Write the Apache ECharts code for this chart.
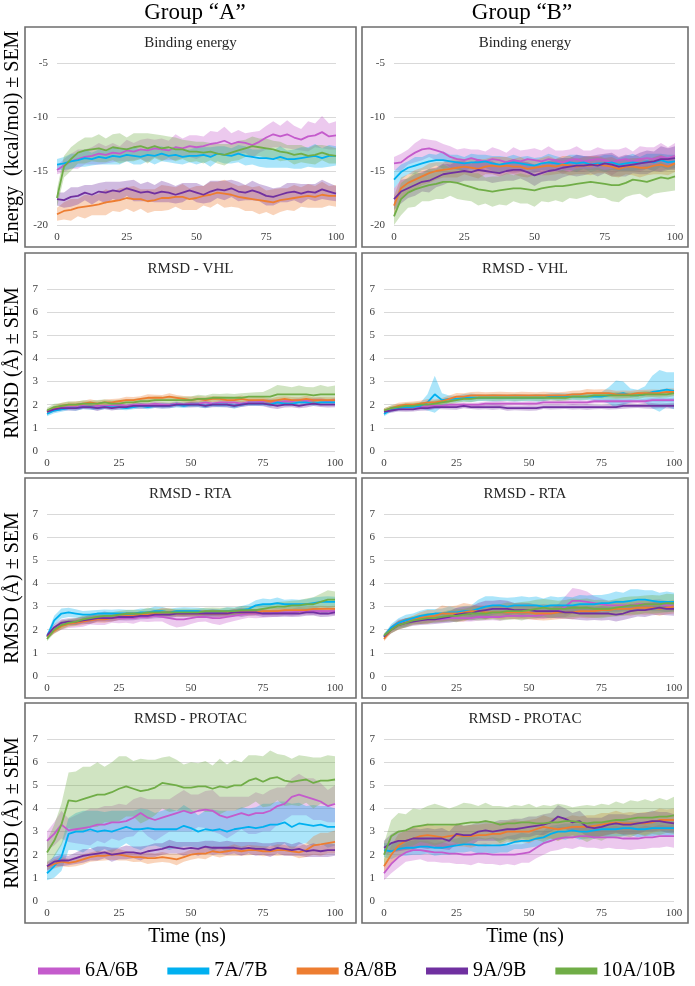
<!DOCTYPE html>
<html>
<head>
<meta charset="utf-8">
<script src="https://cdn.jsdelivr.net/npm/echarts@6/dist/echarts.min.js"></script>
<style>
  html, body { margin: 0; padding: 0; background: #fff; }
  #chart { width: 695px; height: 986px; }
</style>
</head>
<body>
<div id="chart"></div>
<script>
// time axis (ns)
var times = [0,2.5,5,7.5,10,12.5,15,17.5,20,22.5,
  25,27.5,30,32.5,35,37.5,40,42.5,45,47.5,
  50,52.5,55,57.5,60,62.5,65,67.5,70,72.5,
  75,77.5,80,82.5,85,87.5,90,92.5,95,97.5,100];

var seriesNames = ['6A/6B', '7A/7B', '8A/8B', '9A/9B', '10A/10B'];
var seriesColors = ['#c45bcc', '#00b0f0', '#ed7d31', '#7030a0', '#70ad47'];
var panelTitles = ['Binding energy', 'RMSD - VHL', 'RMSD - RTA', 'RMSD - PROTAC'];
var xTicks = [0, 100, 25];
var energyTicks = [-20, -5, 5];
var rmsdTicks = [0, 7, 1];

// ---- Binding energy, group A ----
var bindA_6 = [-14.9,-14.5,-14.1,-13.9,-13.7,-13.6,-13.4,-13.5,-13.3,-13.4,
  -13.1,-13.2,-13.0,-13.1,-12.9,-13.0,-13.1,-12.8,-12.9,-12.7,
  -12.8,-12.7,-12.5,-12.4,-12.2,-12.5,-12.3,-12.4,-12.6,-12.3,
  -11.9,-11.6,-11.8,-11.6,-11.9,-12.1,-11.8,-11.7,-11.4,-11.8,-11.7];
var bindA_6_sem = [0.4,0.6,0.7,0.9,0.7,0.8,1.0,0.8,0.9,0.7,
  1.0,0.8,0.9,1.1,0.8,1.0,0.9,1.2,0.9,1.0,
  1.1,0.9,1.2,1.0,1.3,1.0,1.1,0.9,1.2,1.0,
  1.1,1.2,1.0,1.3,1.1,1.0,1.4,1.1,1.5,1.2,1.3];
var bindA_7 = [-14.4,-14.3,-14.1,-14.0,-13.8,-13.9,-13.7,-13.8,-13.6,-13.7,
  -13.5,-13.6,-13.7,-13.5,-13.6,-13.4,-13.6,-13.5,-13.7,-13.6,
  -13.6,-13.5,-13.7,-13.4,-13.5,-13.6,-13.4,-13.6,-13.7,-13.8,
  -13.8,-13.9,-13.7,-13.9,-13.9,-13.8,-13.7,-13.6,-13.8,-13.6,-13.6];
var bindA_7_sem = [0.5,0.6,0.7,0.6,0.8,0.6,0.7,0.6,0.8,0.7,
  0.6,0.8,0.7,0.6,0.8,0.7,0.6,0.8,0.7,0.6,
  0.8,0.7,0.9,0.7,0.8,0.7,0.8,0.9,0.7,0.8,
  0.9,0.8,1.0,0.8,0.9,1.0,0.9,1.1,0.9,1.0,0.9];
var bindA_8 = [-19.0,-18.7,-18.6,-18.4,-18.3,-18.2,-18.1,-17.9,-17.8,-17.7,
  -17.5,-17.6,-17.6,-17.8,-17.7,-17.5,-17.5,-17.4,-17.4,-17.6,
  -17.5,-17.3,-17.2,-17.0,-17.1,-17.2,-17.4,-17.5,-17.6,-17.7,
  -17.8,-17.9,-17.7,-17.6,-17.5,-17.4,-17.3,-17.4,-17.2,-17.3,-17.3];
var bindA_8_sem = [0.6,0.8,1.0,0.8,1.1,0.9,1.0,1.2,0.9,1.1,
  1.0,1.2,0.9,1.1,1.0,1.2,1.1,0.9,1.2,1.0,
  1.1,0.9,1.2,1.0,1.3,1.1,1.0,1.2,1.1,1.3,
  1.0,1.2,1.1,1.0,1.2,0.9,1.1,1.0,1.2,0.9,1.0];
var bindA_9 = [-17.6,-17.7,-17.4,-17.3,-17.0,-17.2,-16.9,-17.0,-16.8,-16.9,
  -16.6,-16.8,-17.0,-16.9,-17.1,-16.9,-17.0,-17.2,-17.0,-16.8,
  -17.0,-17.2,-16.9,-16.7,-16.8,-16.6,-16.9,-17.0,-16.8,-17.0,
  -17.3,-17.4,-17.2,-17.0,-16.9,-17.1,-16.9,-17.0,-16.7,-16.9,-17.1];
var bindA_9_sem = [0.6,0.7,0.9,0.8,0.7,0.9,0.8,1.0,0.8,0.9,
  0.7,1.0,0.8,0.9,0.8,1.0,0.9,0.8,0.9,0.7,
  0.9,0.8,1.0,0.8,0.9,0.8,0.9,0.7,0.9,0.8,
  0.9,0.8,0.7,0.9,0.8,0.9,0.7,0.8,0.9,0.8,0.7];
var bindA_10 = [-17.5,-14.6,-13.9,-13.3,-13.1,-13.0,-12.9,-13.1,-12.8,-12.9,
  -13.0,-12.8,-12.7,-12.9,-12.7,-12.9,-12.8,-13.0,-13.0,-13.2,
  -13.2,-13.3,-13.2,-13.4,-13.5,-13.3,-13.1,-12.9,-12.7,-12.8,
  -12.9,-13.0,-13.2,-13.3,-13.5,-13.4,-13.6,-13.5,-13.3,-13.5,-13.6];
var bindA_10_sem = [0.8,1.0,1.1,1.0,1.2,1.1,1.3,1.1,1.2,1.4,
  1.1,1.3,1.2,1.4,1.1,1.2,1.0,1.1,0.9,1.0,
  0.9,1.0,0.8,0.9,1.0,0.8,0.9,0.8,0.9,0.8,
  0.9,0.8,0.9,0.7,0.9,0.8,0.7,0.9,0.7,0.8,0.7];

// ---- Binding energy, group B ----
var bindB_6 = [-14.3,-14.2,-13.7,-13.3,-13.0,-12.9,-13.1,-13.3,-13.7,-13.9,
  -14.0,-13.8,-14.0,-14.1,-13.9,-14.0,-14.2,-14.0,-14.1,-13.9,
  -14.0,-14.1,-13.9,-14.0,-14.2,-14.0,-13.9,-14.1,-14.0,-13.9,
  -14.0,-14.2,-14.0,-13.9,-14.1,-13.9,-13.8,-13.9,-13.7,-13.8,-13.6];
var bindB_6_sem = [0.6,0.8,0.7,0.9,1.0,0.8,0.9,0.8,1.0,0.9,
  1.1,0.8,1.0,0.9,1.1,1.0,0.9,1.2,1.0,0.9,
  1.1,1.0,1.2,0.9,1.1,1.0,1.2,1.0,0.9,1.1,
  1.0,1.2,1.0,1.1,0.9,1.2,1.0,1.1,1.3,1.0,1.2];
var bindB_7 = [-15.8,-15.1,-14.7,-14.5,-14.3,-14.1,-14.0,-14.0,-14.1,-14.2,
  -14.3,-14.2,-14.2,-14.1,-14.3,-14.4,-14.3,-14.2,-14.3,-14.4,
  -14.5,-14.3,-14.2,-14.3,-14.4,-14.2,-14.3,-14.2,-14.4,-14.3,
  -14.3,-14.2,-14.4,-14.3,-14.2,-14.3,-14.1,-14.2,-14.0,-14.2,-14.1];
var bindB_7_sem = [0.8,0.7,0.6,0.8,0.6,0.7,0.5,0.8,0.6,0.7,
  0.6,0.8,0.7,0.6,0.7,0.8,0.6,0.7,0.6,0.8,
  0.7,0.6,0.8,0.7,0.6,0.7,0.8,0.6,0.7,0.6,
  0.8,0.7,0.6,0.7,0.8,0.6,0.7,0.8,0.6,0.7,0.6];
var bindB_8 = [-18.2,-16.6,-16.1,-15.8,-15.5,-15.2,-15.0,-14.9,-14.8,-14.7,
  -14.6,-14.7,-14.8,-14.6,-14.5,-14.6,-14.5,-14.6,-14.6,-14.8,
  -14.7,-14.6,-14.5,-14.6,-14.4,-14.5,-14.6,-14.5,-14.5,-14.4,
  -14.5,-14.6,-14.8,-14.6,-14.6,-14.7,-14.7,-14.5,-14.4,-14.6,-14.3];
var bindB_8_sem = [0.9,1.0,0.8,0.9,0.8,0.9,0.8,0.7,0.8,0.9,
  0.7,0.8,0.9,0.7,0.8,0.9,0.8,0.7,0.9,0.8,
  0.7,0.8,0.9,0.7,0.8,0.9,0.7,0.8,0.9,0.8,
  0.7,0.9,0.8,0.7,0.8,0.9,0.7,0.8,0.9,0.8,0.8];
var bindB_9 = [-17.6,-16.9,-16.6,-16.3,-16.0,-15.9,-15.6,-15.3,-15.2,-15.1,
  -15.0,-15.1,-14.9,-15.0,-15.1,-15.2,-15.0,-14.9,-14.9,-15.1,
  -15.4,-15.2,-15.0,-14.9,-14.7,-14.6,-14.5,-14.5,-14.4,-14.5,
  -14.3,-14.4,-14.6,-14.5,-14.4,-14.3,-14.2,-14.1,-13.9,-13.9,-13.8];
var bindB_9_sem = [1.0,1.1,0.9,1.0,0.9,1.1,0.9,1.0,0.8,1.0,
  0.9,0.8,1.0,0.9,1.0,0.8,0.9,1.0,0.8,0.9,
  1.0,0.8,0.9,1.0,0.9,0.8,1.0,0.9,0.8,1.0,
  0.9,1.1,0.9,1.0,0.8,1.0,1.1,0.9,1.2,1.0,1.1];
var bindB_10 = [-19.2,-17.6,-17.0,-16.7,-16.5,-16.3,-16.2,-16.0,-16.0,-16.1,
  -16.3,-16.5,-16.7,-16.8,-16.9,-16.8,-16.7,-16.6,-16.6,-16.7,
  -16.8,-16.6,-16.5,-16.4,-16.4,-16.3,-16.2,-16.1,-16.0,-16.1,
  -16.2,-16.3,-16.3,-16.1,-15.8,-15.9,-16.0,-15.8,-15.6,-15.7,-15.5];
var bindB_10_sem = [1.2,1.5,1.4,1.6,1.3,1.5,1.4,1.6,1.3,1.5,
  1.4,1.3,1.5,1.2,1.4,1.3,1.5,1.2,1.4,1.3,
  1.5,1.2,1.4,1.3,1.5,1.2,1.4,1.3,1.2,1.4,
  1.3,1.5,1.6,1.3,1.4,1.2,1.5,1.3,1.4,1.2,1.3];

// ---- RMSD VHL, group A ----
var vhlA_6 = [1.7,1.8,1.85,1.9,1.9,1.95,1.9,1.95,1.95,1.95,
  2.0,1.95,2.0,2.0,2.0,2.05,2.0,2.0,2.05,2.0,
  2.05,2.05,2.1,2.05,2.1,2.1,2.1,2.05,2.1,2.1,
  2.15,2.15,2.1,2.15,2.15,2.2,2.15,2.2,2.2,2.15,2.2];
var vhlA_6_sem = [0.08,0.1,0.09,0.1,0.08,0.11,0.09,0.1,0.08,0.1,
  0.09,0.11,0.08,0.1,0.09,0.1,0.12,0.09,0.1,0.08,
  0.11,0.09,0.1,0.08,0.1,0.09,0.11,0.1,0.08,0.1,
  0.09,0.11,0.1,0.09,0.1,0.08,0.11,0.09,0.1,0.08,0.1];
var vhlA_7 = [1.6,1.75,1.8,1.85,1.85,1.9,1.9,1.85,1.9,1.9,
  1.9,1.85,1.9,1.95,1.9,1.95,1.95,1.95,2.0,1.95,
  2.0,2.0,1.95,2.0,2.0,2.0,1.95,2.0,2.05,2.05,
  2.05,2.0,2.1,2.05,2.05,2.1,2.1,2.05,2.1,2.1,2.1];
var vhlA_7_sem = [0.1,0.12,0.1,0.09,0.11,0.1,0.12,0.09,0.1,0.11,
  0.12,0.09,0.1,0.11,0.1,0.09,0.11,0.1,0.12,0.09,
  0.1,0.11,0.1,0.09,0.11,0.1,0.12,0.09,0.1,0.11,
  0.1,0.09,0.11,0.12,0.1,0.09,0.11,0.1,0.12,0.1,0.11];
var vhlA_8 = [1.7,1.85,1.95,2.0,2.0,2.05,2.1,2.05,2.1,2.1,
  2.15,2.2,2.2,2.25,2.3,2.3,2.3,2.35,2.3,2.25,
  2.2,2.25,2.2,2.25,2.25,2.2,2.2,2.25,2.2,2.2,
  2.2,2.15,2.2,2.25,2.2,2.2,2.25,2.2,2.2,2.2,2.2];
var vhlA_8_sem = [0.1,0.12,0.14,0.12,0.15,0.12,0.14,0.12,0.13,0.15,
  0.12,0.14,0.13,0.12,0.15,0.13,0.12,0.14,0.12,0.13,
  0.15,0.12,0.14,0.13,0.12,0.14,0.13,0.15,0.12,0.14,
  0.13,0.12,0.14,0.12,0.13,0.12,0.14,0.12,0.13,0.12,0.12];
var vhlA_9 = [1.7,1.8,1.85,1.85,1.85,1.9,1.9,1.85,1.9,1.85,
  1.9,1.9,1.95,1.95,1.95,1.95,1.95,1.95,2.0,2.0,
  2.0,2.0,1.95,2.0,2.0,2.0,1.95,2.0,2.05,2.05,
  2.05,2.0,1.95,2.0,2.0,1.95,2.0,2.05,2.0,2.0,2.0];
var vhlA_9_sem = [0.08,0.1,0.09,0.1,0.11,0.09,0.1,0.12,0.09,0.1,
  0.11,0.09,0.1,0.12,0.1,0.09,0.11,0.1,0.09,0.1,
  0.12,0.1,0.09,0.11,0.1,0.12,0.09,0.1,0.11,0.1,
  0.12,0.14,0.13,0.12,0.11,0.1,0.12,0.11,0.1,0.12,0.11];
var vhlA_10 = [1.75,1.9,1.95,2.0,2.0,2.05,2.05,2.05,2.1,2.05,
  2.05,2.1,2.1,2.15,2.15,2.2,2.2,2.2,2.2,2.2,
  2.2,2.25,2.25,2.3,2.3,2.3,2.3,2.3,2.35,2.35,
  2.35,2.35,2.45,2.45,2.45,2.45,2.45,2.4,2.45,2.45,2.45];
var vhlA_10_sem = [0.12,0.14,0.12,0.15,0.13,0.14,0.12,0.15,0.13,0.14,
  0.16,0.13,0.15,0.14,0.16,0.15,0.14,0.16,0.15,0.14,
  0.16,0.18,0.15,0.17,0.16,0.18,0.16,0.2,0.17,0.19,
  0.2,0.34,0.4,0.36,0.3,0.38,0.32,0.36,0.4,0.33,0.38];

// ---- RMSD VHL, group B ----
var vhlB_6 = [1.7,1.8,1.85,1.9,1.9,1.9,1.95,1.95,1.95,2.0,
  2.0,2.0,2.0,2.0,2.05,2.05,2.05,2.05,2.05,2.05,
  2.05,2.05,2.1,2.1,2.1,2.1,2.1,2.1,2.1,2.15,
  2.15,2.15,2.15,2.15,2.15,2.15,2.15,2.2,2.2,2.2,2.2];
var vhlB_6_sem = [0.08,0.1,0.09,0.1,0.08,0.11,0.09,0.1,0.08,0.1,
  0.09,0.11,0.08,0.1,0.09,0.1,0.12,0.09,0.1,0.08,
  0.11,0.09,0.1,0.08,0.1,0.09,0.11,0.1,0.08,0.1,
  0.09,0.11,0.1,0.09,0.1,0.08,0.11,0.09,0.1,0.08,0.1];
var vhlB_7 = [1.6,1.8,1.85,1.9,1.9,1.95,2.1,2.45,2.2,2.25,
  2.25,2.3,2.3,2.3,2.3,2.3,2.3,2.3,2.3,2.3,
  2.3,2.3,2.3,2.35,2.35,2.35,2.35,2.35,2.35,2.35,
  2.35,2.4,2.45,2.5,2.4,2.4,2.45,2.55,2.6,2.65,2.6];
var vhlB_7_sem = [0.1,0.12,0.1,0.12,0.11,0.14,0.35,0.8,0.3,0.15,
  0.14,0.16,0.18,0.15,0.14,0.16,0.15,0.14,0.16,0.15,
  0.14,0.16,0.15,0.14,0.16,0.15,0.14,0.16,0.15,0.17,
  0.2,0.35,0.6,0.5,0.3,0.25,0.35,0.7,0.9,0.75,0.8];
var vhlB_8 = [1.75,1.85,1.95,2.0,2.0,2.05,2.1,2.1,2.15,2.25,
  2.35,2.35,2.4,2.4,2.4,2.4,2.4,2.4,2.4,2.4,
  2.4,2.4,2.4,2.4,2.4,2.4,2.45,2.45,2.5,2.5,
  2.5,2.5,2.45,2.45,2.45,2.5,2.5,2.5,2.5,2.55,2.55];
var vhlB_8_sem = [0.1,0.12,0.14,0.12,0.14,0.12,0.15,0.13,0.14,0.15,
  0.16,0.14,0.15,0.16,0.14,0.15,0.16,0.15,0.14,0.16,
  0.15,0.14,0.16,0.15,0.14,0.16,0.15,0.16,0.18,0.16,
  0.17,0.16,0.15,0.16,0.15,0.14,0.15,0.16,0.15,0.16,0.15];
var vhlB_9 = [1.7,1.75,1.8,1.8,1.8,1.85,1.85,1.9,1.9,1.9,
  1.9,1.95,1.9,1.9,1.9,1.9,1.9,1.85,1.85,1.85,
  1.85,1.85,1.9,1.9,1.9,1.9,1.9,1.9,1.9,1.9,
  1.9,1.9,1.9,1.95,1.95,1.95,1.95,1.95,1.95,1.95,1.95];
var vhlB_9_sem = [0.08,0.1,0.09,0.1,0.09,0.11,0.1,0.09,0.1,0.11,
  0.12,0.1,0.09,0.11,0.1,0.12,0.1,0.11,0.09,0.1,
  0.11,0.1,0.09,0.11,0.1,0.09,0.11,0.1,0.12,0.1,
  0.09,0.11,0.1,0.12,0.1,0.09,0.11,0.12,0.1,0.11,0.12];
var vhlB_10 = [1.75,1.85,1.9,1.95,1.95,2.0,2.0,2.05,2.1,2.15,
  2.2,2.25,2.25,2.3,2.3,2.3,2.3,2.3,2.3,2.3,
  2.3,2.3,2.3,2.3,2.3,2.3,2.35,2.35,2.35,2.4,
  2.4,2.4,2.4,2.4,2.4,2.4,2.45,2.45,2.45,2.45,2.5];
var vhlB_10_sem = [0.1,0.12,0.11,0.12,0.13,0.12,0.11,0.13,0.12,0.14,
  0.13,0.12,0.14,0.13,0.12,0.14,0.13,0.12,0.14,0.13,
  0.12,0.14,0.13,0.12,0.14,0.13,0.12,0.14,0.13,0.12,
  0.14,0.13,0.15,0.14,0.13,0.15,0.14,0.13,0.15,0.14,0.13];

// ---- RMSD RTA, group A ----
var rtaA_6 = [1.7,2.0,2.2,2.25,2.3,2.35,2.4,2.45,2.5,2.5,
  2.5,2.5,2.5,2.55,2.55,2.6,2.55,2.5,2.45,2.45,
  2.5,2.55,2.55,2.5,2.5,2.55,2.6,2.65,2.7,2.7,
  2.7,2.7,2.75,2.75,2.75,2.8,2.8,2.8,2.8,2.8,2.8];
var rtaA_6_sem = [0.1,0.15,0.2,0.18,0.2,0.22,0.18,0.25,0.3,0.2,
  0.22,0.2,0.24,0.2,0.22,0.25,0.2,0.3,0.35,0.3,
  0.25,0.22,0.2,0.24,0.3,0.25,0.22,0.2,0.18,0.2,
  0.18,0.16,0.18,0.15,0.16,0.18,0.15,0.16,0.15,0.16,0.15];
var rtaA_7 = [1.7,2.4,2.7,2.75,2.7,2.65,2.65,2.7,2.7,2.7,
  2.7,2.7,2.7,2.75,2.75,2.8,2.8,2.75,2.8,2.8,
  2.8,2.8,2.75,2.75,2.75,2.8,2.8,2.85,2.9,3.05,
  3.1,3.1,3.15,3.1,3.1,3.1,3.1,3.15,3.2,3.2,3.2];
var rtaA_7_sem = [0.1,0.2,0.22,0.2,0.18,0.16,0.18,0.15,0.17,0.16,
  0.18,0.16,0.15,0.17,0.16,0.2,0.18,0.16,0.15,0.17,
  0.16,0.15,0.17,0.16,0.15,0.17,0.16,0.18,0.2,0.22,
  0.25,0.22,0.24,0.2,0.22,0.2,0.22,0.24,0.22,0.25,0.22];
var rtaA_8 = [1.7,1.95,2.15,2.25,2.3,2.35,2.4,2.45,2.45,2.5,
  2.55,2.6,2.6,2.65,2.65,2.7,2.75,2.75,2.7,2.7,
  2.7,2.7,2.7,2.7,2.7,2.7,2.75,2.75,2.75,2.75,
  2.8,2.8,2.8,2.85,2.85,2.85,2.85,2.9,2.9,2.9,2.9];
var rtaA_8_sem = [0.1,0.12,0.14,0.12,0.14,0.15,0.13,0.14,0.15,0.14,
  0.13,0.15,0.14,0.13,0.15,0.14,0.2,0.18,0.14,0.13,
  0.14,0.13,0.14,0.13,0.14,0.13,0.14,0.13,0.14,0.13,
  0.14,0.13,0.14,0.13,0.14,0.13,0.14,0.13,0.14,0.13,0.14];
var rtaA_9 = [1.75,2.1,2.3,2.35,2.35,2.4,2.45,2.5,2.5,2.5,
  2.55,2.55,2.55,2.6,2.6,2.65,2.65,2.65,2.7,2.7,
  2.7,2.7,2.7,2.7,2.7,2.7,2.75,2.75,2.75,2.75,
  2.7,2.7,2.7,2.7,2.7,2.7,2.75,2.75,2.7,2.7,2.75];
var rtaA_9_sem = [0.1,0.14,0.15,0.14,0.15,0.14,0.2,0.15,0.14,0.15,
  0.14,0.15,0.14,0.15,0.14,0.15,0.14,0.15,0.14,0.15,
  0.14,0.15,0.14,0.18,0.15,0.14,0.15,0.2,0.15,0.14,
  0.15,0.14,0.15,0.14,0.15,0.14,0.15,0.14,0.15,0.14,0.15];
var rtaA_10 = [1.6,2.0,2.2,2.3,2.35,2.45,2.5,2.55,2.6,2.6,
  2.65,2.7,2.7,2.7,2.75,2.75,2.75,2.75,2.75,2.75,
  2.75,2.75,2.8,2.8,2.8,2.8,2.8,2.85,2.85,2.85,
  2.9,2.95,3.0,3.0,3.05,3.05,3.1,3.1,3.2,3.3,3.3];
var rtaA_10_sem = [0.1,0.15,0.18,0.15,0.16,0.15,0.16,0.15,0.16,0.15,
  0.16,0.15,0.16,0.15,0.2,0.16,0.15,0.16,0.15,0.16,
  0.15,0.16,0.15,0.16,0.15,0.16,0.15,0.16,0.15,0.18,
  0.2,0.18,0.2,0.22,0.2,0.22,0.25,0.3,0.35,0.4,0.35];

// ---- RMSD RTA, group B ----
var rtaB_6 = [1.7,2.05,2.3,2.35,2.4,2.4,2.45,2.45,2.45,2.5,
  2.5,2.5,2.5,2.55,2.55,2.55,2.55,2.6,2.6,2.6,
  2.6,2.6,2.65,2.7,2.8,3.0,3.25,3.25,3.2,3.15,
  3.1,3.05,3.05,3.05,3.05,3.1,3.1,3.1,3.1,3.05,3.0];
var rtaB_6_sem = [0.1,0.12,0.14,0.15,0.14,0.15,0.14,0.15,0.14,0.15,
  0.16,0.15,0.14,0.16,0.15,0.14,0.16,0.15,0.14,0.16,
  0.15,0.16,0.18,0.2,0.3,0.45,0.55,0.5,0.45,0.3,
  0.25,0.2,0.22,0.2,0.22,0.2,0.22,0.2,0.22,0.2,0.2];
var rtaB_7 = [1.7,2.1,2.3,2.4,2.5,2.6,2.65,2.7,2.7,2.75,
  2.75,2.8,2.8,2.9,3.0,3.05,3.05,3.0,3.05,3.05,
  3.05,3.05,3.0,3.05,3.05,3.05,3.05,3.1,3.1,3.1,
  3.15,3.15,3.2,3.2,3.25,3.3,3.3,3.25,3.2,3.2,3.2];
var rtaB_7_sem = [0.1,0.15,0.2,0.25,0.2,0.22,0.25,0.2,0.22,0.25,
  0.2,0.22,0.25,0.4,0.45,0.4,0.35,0.38,0.35,0.4,
  0.35,0.38,0.35,0.4,0.35,0.38,0.35,0.4,0.38,0.4,
  0.35,0.4,0.45,0.4,0.5,0.45,0.4,0.45,0.4,0.45,0.4];
var rtaB_8 = [1.6,2.0,2.2,2.3,2.4,2.5,2.55,2.6,2.7,2.7,
  2.7,2.75,2.8,2.8,2.75,2.75,2.75,2.75,2.75,2.75,
  2.75,2.7,2.7,2.7,2.75,2.75,2.75,2.8,2.8,2.8,
  2.85,2.85,2.9,2.9,2.9,2.95,2.95,2.95,2.9,2.95,3.0];
var rtaB_8_sem = [0.1,0.15,0.2,0.18,0.2,0.25,0.3,0.25,0.35,0.3,
  0.35,0.4,0.3,0.25,0.3,0.25,0.3,0.28,0.3,0.28,
  0.3,0.28,0.3,0.28,0.3,0.28,0.3,0.28,0.3,0.28,
  0.3,0.28,0.3,0.28,0.3,0.28,0.3,0.28,0.3,0.28,0.3];
var rtaB_9 = [1.7,2.0,2.2,2.3,2.35,2.4,2.45,2.45,2.5,2.55,
  2.65,2.7,2.7,2.8,2.85,2.9,2.9,2.9,2.85,2.85,
  2.85,2.8,2.8,2.8,2.8,2.75,2.75,2.7,2.7,2.7,
  2.7,2.7,2.65,2.7,2.8,2.85,2.85,2.9,2.95,2.9,2.9];
var rtaB_9_sem = [0.1,0.15,0.18,0.2,0.18,0.2,0.22,0.2,0.22,0.25,
  0.3,0.28,0.3,0.35,0.4,0.35,0.38,0.35,0.3,0.32,
  0.3,0.28,0.3,0.28,0.3,0.28,0.3,0.28,0.3,0.28,
  0.3,0.28,0.3,0.28,0.3,0.28,0.3,0.28,0.3,0.28,0.3];
var rtaB_10 = [1.75,2.0,2.2,2.3,2.4,2.45,2.5,2.5,2.55,2.6,
  2.6,2.65,2.7,2.7,2.7,2.75,2.75,2.8,2.8,2.8,
  2.85,2.9,2.95,2.9,2.9,2.9,2.95,2.95,2.95,2.9,
  2.9,2.9,2.95,3.0,3.05,3.05,3.1,3.1,3.1,3.15,3.15];
var rtaB_10_sem = [0.1,0.15,0.18,0.2,0.18,0.2,0.22,0.2,0.22,0.25,
  0.28,0.25,0.28,0.3,0.28,0.3,0.35,0.38,0.35,0.4,
  0.38,0.4,0.38,0.4,0.35,0.38,0.4,0.38,0.4,0.38,
  0.4,0.35,0.38,0.4,0.38,0.4,0.38,0.4,0.38,0.4,0.38];

// ---- RMSD PROTAC, group A ----
var protA_6 = [2.6,2.9,3.3,3.05,3.1,3.15,3.2,3.3,3.3,3.4,
  3.4,3.45,3.6,3.8,3.6,3.5,3.6,3.7,3.8,3.9,
  3.8,3.9,3.95,3.9,3.7,3.6,3.7,3.8,3.7,3.8,
  3.8,3.9,4.1,4.2,4.5,4.6,4.5,4.4,4.3,4.1,4.2];
var protA_6_sem = [0.4,0.5,0.6,0.5,0.6,0.7,0.8,0.7,0.8,0.7,
  0.8,0.7,0.8,0.7,0.8,0.9,0.8,0.7,0.8,0.9,
  0.8,0.7,0.8,0.9,0.8,0.9,0.8,0.7,0.8,0.9,
  0.8,0.9,0.8,0.7,0.8,0.9,0.8,0.9,0.8,0.7,0.8];
var protA_7 = [1.2,1.5,1.9,2.9,3.0,3.0,3.1,3.0,3.05,3.0,
  3.1,3.2,3.1,3.1,3.15,3.1,3.1,3.1,3.1,3.25,
  3.15,3.0,3.1,3.05,3.1,3.0,3.1,3.15,3.2,3.15,
  3.2,3.3,3.3,3.4,3.2,3.35,3.3,3.25,3.3,3.2,3.2];
var protA_7_sem = [0.3,0.5,0.6,0.7,0.8,0.9,0.8,0.9,0.8,0.9,
  0.8,0.7,0.8,0.9,0.8,0.7,0.8,0.9,0.8,0.9,
  0.8,0.7,0.8,0.9,0.8,0.9,0.8,0.9,0.8,0.9,
  1.0,0.9,1.0,0.9,1.0,0.9,0.8,0.9,0.8,0.9,0.8];
var protA_8 = [1.5,1.6,1.7,1.65,1.7,1.8,1.9,1.95,1.95,2.0,
  2.0,1.95,1.9,1.9,1.85,1.85,1.9,1.85,1.8,1.9,
  2.0,2.05,2.05,2.15,2.1,2.15,2.2,2.15,2.2,2.2,
  2.15,2.15,2.2,2.2,2.15,2.1,2.2,2.4,2.45,2.5,2.55];
var protA_8_sem = [0.15,0.2,0.2,0.18,0.2,0.22,0.2,0.22,0.2,0.22,
  0.25,0.2,0.22,0.2,0.25,0.2,0.22,0.2,0.25,0.2,
  0.22,0.2,0.25,0.2,0.22,0.2,0.25,0.2,0.22,0.2,
  0.22,0.2,0.25,0.22,0.2,0.25,0.3,0.4,0.5,0.45,0.5];
var protA_9 = [1.5,1.7,1.75,1.75,1.85,1.95,2.0,2.05,2.1,2.0,
  2.05,2.1,2.1,2.05,2.15,2.2,2.25,2.35,2.3,2.25,
  2.3,2.25,2.35,2.3,2.3,2.3,2.3,2.25,2.3,2.25,
  2.25,2.2,2.3,2.25,2.2,2.25,2.15,2.2,2.15,2.2,2.2];
var protA_9_sem = [0.2,0.2,0.25,0.2,0.25,0.3,0.25,0.3,0.25,0.3,
  0.25,0.3,0.25,0.3,0.25,0.3,0.25,0.3,0.25,0.3,
  0.25,0.3,0.25,0.3,0.25,0.3,0.25,0.3,0.25,0.3,
  0.25,0.3,0.25,0.3,0.25,0.3,0.25,0.3,0.25,0.3,0.25];
var protA_10 = [2.1,2.6,3.3,4.35,4.3,4.4,4.5,4.6,4.6,4.7,
  4.85,4.95,4.85,4.75,4.8,4.9,5.1,5.05,5.0,4.9,
  4.9,4.95,4.95,4.85,4.95,4.9,5.0,5.0,5.2,5.3,
  5.15,5.3,5.35,5.2,5.15,5.2,5.25,5.1,5.2,5.2,5.25];
var protA_10_sem = [0.5,0.7,0.9,1.2,1.3,1.4,1.3,1.4,1.2,1.3,
  1.4,1.3,1.2,1.4,1.3,1.2,1.1,1.2,1.1,1.0,
  1.1,1.0,1.1,1.0,1.2,1.0,1.1,1.0,1.1,1.0,
  1.1,1.2,1.0,1.1,1.0,1.1,1.0,1.1,1.0,1.1,1.0];

// ---- RMSD PROTAC, group B ----
var protB_6 = [1.2,1.6,1.9,2.1,2.2,2.2,2.15,2.1,2.1,2.05,
  2.05,2.0,2.0,2.05,2.05,2.0,2.0,2.0,2.0,2.05,
  2.1,2.3,2.5,2.6,2.7,2.75,2.75,2.8,2.8,2.75,
  2.75,2.75,2.75,2.7,2.7,2.7,2.75,2.75,2.8,2.8,2.8];
var protB_6_sem = [0.3,0.4,0.45,0.4,0.45,0.4,0.45,0.4,0.45,0.4,
  0.45,0.4,0.45,0.4,0.45,0.4,0.45,0.4,0.45,0.4,
  0.45,0.45,0.5,0.45,0.5,0.45,0.5,0.45,0.5,0.45,
  0.5,0.45,0.5,0.45,0.5,0.45,0.5,0.45,0.5,0.45,0.5];
var protB_7 = [2.2,2.15,2.25,2.3,2.3,2.35,2.35,2.3,2.3,2.35,
  2.4,2.45,2.45,2.4,2.4,2.4,2.4,2.45,2.55,2.6,
  2.6,2.7,2.75,2.9,3.0,3.0,3.05,3.0,3.0,3.05,
  3.1,3.1,3.1,3.15,3.15,3.1,3.1,3.15,3.15,3.15,3.15];
var protB_7_sem = [0.3,0.35,0.3,0.35,0.3,0.35,0.3,0.35,0.3,0.35,
  0.3,0.35,0.3,0.35,0.3,0.35,0.3,0.35,0.3,0.35,
  0.3,0.35,0.3,0.35,0.3,0.35,0.3,0.35,0.3,0.35,
  0.3,0.35,0.3,0.35,0.3,0.35,0.3,0.35,0.3,0.35,0.3];
var protB_8 = [1.5,2.0,2.4,2.6,2.7,2.8,2.85,2.8,2.75,2.8,
  2.85,2.8,2.8,2.85,2.85,2.9,2.9,3.0,3.0,3.0,
  3.0,3.1,3.2,3.15,3.1,3.15,3.2,3.2,3.2,3.25,
  3.3,3.35,3.4,3.35,3.35,3.35,3.35,3.4,3.5,3.5,3.5];
var protB_8_sem = [0.3,0.4,0.5,0.45,0.5,0.45,0.5,0.45,0.5,0.45,
  0.5,0.45,0.5,0.45,0.5,0.45,0.5,0.45,0.5,0.45,
  0.5,0.45,0.5,0.45,0.5,0.45,0.5,0.45,0.5,0.45,
  0.5,0.45,0.5,0.45,0.5,0.45,0.5,0.45,0.5,0.45,0.5];
var protB_9 = [2.3,2.5,2.6,2.6,2.7,2.7,2.7,2.7,2.7,2.6,
  2.9,2.85,2.85,3.0,3.05,3.0,3.05,3.1,3.1,3.15,
  3.2,3.25,3.3,3.4,3.65,3.55,3.4,3.45,3.2,3.15,
  3.2,3.3,3.35,3.3,3.3,3.35,3.4,3.45,3.45,3.4,3.35];
var protB_9_sem = [0.3,0.4,0.45,0.4,0.45,0.4,0.45,0.4,0.45,0.4,
  0.45,0.4,0.45,0.4,0.45,0.4,0.45,0.4,0.45,0.4,
  0.45,0.4,0.45,0.4,0.5,0.45,0.4,0.45,0.4,0.45,
  0.4,0.45,0.4,0.45,0.4,0.45,0.4,0.45,0.4,0.45,0.4];
var protB_10 = [2.0,2.8,3.0,3.05,3.2,3.25,3.3,3.3,3.3,3.3,
  3.3,3.35,3.4,3.4,3.45,3.4,3.3,3.35,3.35,3.4,
  3.4,3.35,3.35,3.4,3.4,3.45,3.45,3.4,3.35,3.4,
  3.4,3.45,3.5,3.5,3.55,3.6,3.6,3.6,3.65,3.65,3.7];
var protB_10_sem = [0.5,0.7,0.8,0.7,0.8,0.7,0.8,0.9,0.8,0.7,
  0.8,0.9,0.8,0.7,0.8,0.7,0.8,0.7,0.8,0.7,
  0.8,0.7,0.8,0.7,0.8,0.7,0.6,0.7,0.8,0.7,
  0.8,0.7,0.8,0.7,0.8,0.7,0.8,0.7,0.8,0.7,0.8];

// panels: row, column, axis range and the [mean, sem] pairs in legend order
var panels = [
  { row: 0, col: 0, ticks: energyTicks, data: [[bindA_6, bindA_6_sem], [bindA_7, bindA_7_sem], [bindA_8, bindA_8_sem], [bindA_9, bindA_9_sem], [bindA_10, bindA_10_sem]] },
  { row: 0, col: 1, ticks: energyTicks, data: [[bindB_6, bindB_6_sem], [bindB_7, bindB_7_sem], [bindB_8, bindB_8_sem], [bindB_9, bindB_9_sem], [bindB_10, bindB_10_sem]] },
  { row: 1, col: 0, ticks: rmsdTicks, data: [[vhlA_6, vhlA_6_sem], [vhlA_7, vhlA_7_sem], [vhlA_8, vhlA_8_sem], [vhlA_9, vhlA_9_sem], [vhlA_10, vhlA_10_sem]] },
  { row: 1, col: 1, ticks: rmsdTicks, data: [[vhlB_6, vhlB_6_sem], [vhlB_7, vhlB_7_sem], [vhlB_8, vhlB_8_sem], [vhlB_9, vhlB_9_sem], [vhlB_10, vhlB_10_sem]] },
  { row: 2, col: 0, ticks: rmsdTicks, data: [[rtaA_6, rtaA_6_sem], [rtaA_7, rtaA_7_sem], [rtaA_8, rtaA_8_sem], [rtaA_9, rtaA_9_sem], [rtaA_10, rtaA_10_sem]] },
  { row: 2, col: 1, ticks: rmsdTicks, data: [[rtaB_6, rtaB_6_sem], [rtaB_7, rtaB_7_sem], [rtaB_8, rtaB_8_sem], [rtaB_9, rtaB_9_sem], [rtaB_10, rtaB_10_sem]] },
  { row: 3, col: 0, ticks: rmsdTicks, data: [[protA_6, protA_6_sem], [protA_7, protA_7_sem], [protA_8, protA_8_sem], [protA_9, protA_9_sem], [protA_10, protA_10_sem]] },
  { row: 3, col: 1, ticks: rmsdTicks, data: [[protB_6, protB_6_sem], [protB_7, protB_7_sem], [protB_8, protB_8_sem], [protB_9, protB_9_sem], [protB_10, protB_10_sem]] }
];

var FONT = '"Liberation Serif", "Times New Roman", serif';
var rowTop = [63, 289, 514, 739];
var plotH = 162;
var boxX = [25, 362], boxW = [331, 326];

function plotLeft(row, col) {
  if (row === 0) return col === 0 ? [57, 279] : [394, 281];
  return col === 0 ? [47, 288] : [384, 290];
}

// SEM band: one polygon through the upper edge and back along the lower edge
function bandRenderer(color) {
  return function (params, api) {
    if (params.dataIndexInside !== 0) return;
    var n = params.dataInsideLength, up = [], lo = [];
    for (var j = 0; j < n; j++) {
      up.push(api.coord([api.value(0, j), api.value(2, j)]));
      lo.push(api.coord([api.value(0, j), api.value(1, j)]));
    }
    var cs = params.coordSys;
    var pts = echarts.graphic.clipPointsByRect(up.concat(lo.reverse()),
      { x: cs.x, y: cs.y, width: cs.width, height: cs.height });
    return { type: 'polygon', shape: { points: pts }, style: { fill: color, opacity: 0.33 } };
  };
}

var chart = echarts.init(document.getElementById('chart'));
var grid = [], xAxis = [], yAxis = [], series = [], graphic = [];

panels.forEach(function (p, i) {
  var lw = plotLeft(p.row, p.col);
  grid.push({ left: lw[0], top: rowTop[p.row], width: lw[1], height: plotH });
  xAxis.push({
    gridIndex: i, type: 'value', min: xTicks[0], max: xTicks[1], interval: xTicks[2],
    axisLine: { show: false }, axisTick: { show: false }, splitLine: { show: false },
    axisLabel: { fontFamily: FONT, fontSize: 11, color: '#404040', margin: 7 }
  });
  yAxis.push({
    gridIndex: i, type: 'value', min: p.ticks[0], max: p.ticks[1], interval: p.ticks[2],
    axisLine: { show: false }, axisTick: { show: false },
    splitLine: { lineStyle: { color: '#d9d9d9', width: 1 } },
    axisLabel: { fontFamily: FONT, fontSize: 11, color: '#404040', margin: 9 }
  });

  p.data.forEach(function (pair, k) {
    var mean = pair[0], sem = pair[1];
    series.push({
      type: 'custom', name: 'band', xAxisIndex: i, yAxisIndex: i, silent: true, z: 1,
      data: times.map(function (t, j) { return [t, mean[j] - sem[j], mean[j] + sem[j]]; }),
      encode: { x: 0, y: [1, 2] },
      renderItem: bandRenderer(seriesColors[k])
    });
  });
  p.data.forEach(function (pair, k) {
    var mean = pair[0];
    series.push({
      type: 'line', name: seriesNames[k], xAxisIndex: i, yAxisIndex: i,
      data: times.map(function (t, j) { return [t, mean[j]]; }),
      symbol: 'none', z: 3,
      itemStyle: { color: seriesColors[k] },
      lineStyle: { color: seriesColors[k], width: 1.8 }
    });
  });

  // panel frame and title
  var by = rowTop[p.row] - 36;
  graphic.push({
    type: 'rect', shape: { x: boxX[p.col], y: by, width: boxW[p.col], height: 220 },
    style: { fill: 'none', stroke: '#6e6e6e', lineWidth: 1.6 }, z: 10
  });
  graphic.push({
    type: 'text', x: boxX[p.col] + boxW[p.col] / 2, y: rowTop[p.row] - 20,
    style: { text: panelTitles[p.row], font: '15px ' + FONT, fill: '#262626',
      align: 'center', verticalAlign: 'middle', textAlign: 'center', textVerticalAlign: 'middle' }
  });
});

// group headings, y labels, x labels
[['Group \u201cA\u201d', 195], ['Group \u201cB\u201d', 522]].forEach(function (g) {
  graphic.push({
    type: 'text', x: g[1], y: 13,
    style: { text: g[0], font: '23px ' + FONT, fill: '#000',
      align: 'center', verticalAlign: 'middle', textAlign: 'center', textVerticalAlign: 'middle' }
  });
});
var yLabels = ['Energy  (kcal/mol) \u00b1 SEM', 'RMSD (\u00c5) \u00b1 SEM', 'RMSD (\u00c5) \u00b1 SEM', 'RMSD (\u00c5) \u00b1 SEM'];
yLabels.forEach(function (txt, r) {
  graphic.push({
    type: 'text', x: 13, y: rowTop[r] - 36 + 110, rotation: Math.PI / 2,
    style: { text: txt, font: '20px ' + FONT, fill: '#000',
      align: 'center', verticalAlign: 'middle', textAlign: 'center', textVerticalAlign: 'middle' }
  });
});
[187, 525].forEach(function (cx) {
  graphic.push({
    type: 'text', x: cx, y: 937,
    style: { text: 'Time (ns)', font: '20px ' + FONT, fill: '#000',
      align: 'center', verticalAlign: 'middle', textAlign: 'center', textVerticalAlign: 'middle' }
  });
});

chart.setOption({
  animation: false,
  backgroundColor: '#fff',
  grid: grid,
  xAxis: xAxis,
  yAxis: yAxis,
  legend: {
    data: seriesNames, left: 33, top: 956, icon: 'rect',
    itemWidth: 42, itemHeight: 7, itemGap: 29,
    textStyle: { fontFamily: FONT, fontSize: 20, color: '#000' }
  },
  graphic: graphic,
  series: series
});
</script>
</body>
</html>
